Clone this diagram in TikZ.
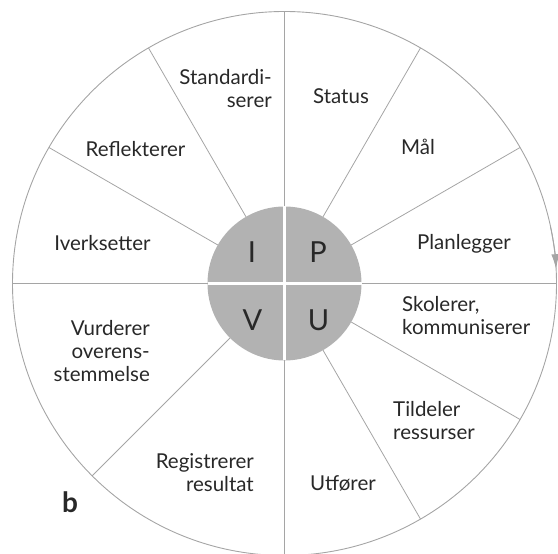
\documentclass[tikz,border=0pt]{standalone}
\usepackage{fontspec}
\setmainfont{Lato}
\usetikzlibrary{arrows.meta}
\definecolor{linegray}{RGB}{165,165,165}
\definecolor{discgray}{RGB}{178,178,178}
\definecolor{txt}{RGB}{40,40,40}
\begin{document}
\begin{tikzpicture}[x=1pt,y=1pt,
  lab/.style={font=\fontsize{20.5}{23}\selectfont, text=txt, inner sep=0pt},
  letter/.style={font=\fontsize{29}{30}\selectfont, text=txt, inner sep=0pt, anchor=base},
  spoke/.style={draw=linegray, line width=0.8pt},
  rim/.style={draw=linegray, line width=0.9pt}]
\useasboundingbox (0,0) rectangle (558,554);
\clip (0,0) rectangle (558,554);
\coordinate (c) at (284.5,270.5);
% outer circle
\draw[rim] (c) circle (272);
% spokes
\foreach \a in {0,30,60,90,120,150,180,225,270,300,330}
  \draw[spoke] (c) ++(\a:77) -- ++(\a:195);
% inner disc
\fill[discgray] (c) circle (77);
\draw[white, line width=2.4pt] (c) ++(0,77) -- ++(0,-154);
\draw[white, line width=2.4pt] (c) ++(-77,0) -- ++(154,0);
% arrow on rim
\draw[rim, -{Latex[length=15pt,width=8pt]}] (c) ++(12:272) arc[start angle=12, end angle=3, radius=272];
% letters
\node[letter] (I) at (252,291) {I};
\node[letter] (P) at (318,291) {P};
\node[letter] (V) at (252.5,223) {V};
\node[letter] (U) at (318.5,223) {U};
% labels (multi-line nodes: base = last line)
\node[lab, anchor=base east, align=right] (std) at (272,446) {Standardi-\\serer};
\node[lab, anchor=base] (status) at (341,450) {Status};
\node[lab, anchor=base] (maal) at (418,399) {Mål};
\node[lab, anchor=base] (refl) at (135.5,397) {Reflekterer};
\node[lab, anchor=base] (iverk) at (102.5,303) {Iverksetter};
\node[lab, anchor=base] (plan) at (464,304) {Planlegger};
\node[lab, anchor=base west, align=left] (skol) at (402,219) {Skolerer,\\kommuniserer};
\node[lab, anchor=base east, align=right] (vurd) at (150,172) {Vurderer\\overens-\\stemmelse};
\node[lab, anchor=base west, align=left] (tild) at (393,114) {Tildeler\\ressurser};
\node[lab, anchor=base east, align=right] (reg) at (254,62) {Registrerer\\resultat};
\node[lab, anchor=base] (utf) at (343,63) {Utfører};
\node[font=\fontsize{28}{30}\selectfont\bfseries, text=txt, inner sep=0pt, anchor=base west] (b) at (62,41) {b};
\end{tikzpicture}
\end{document}
